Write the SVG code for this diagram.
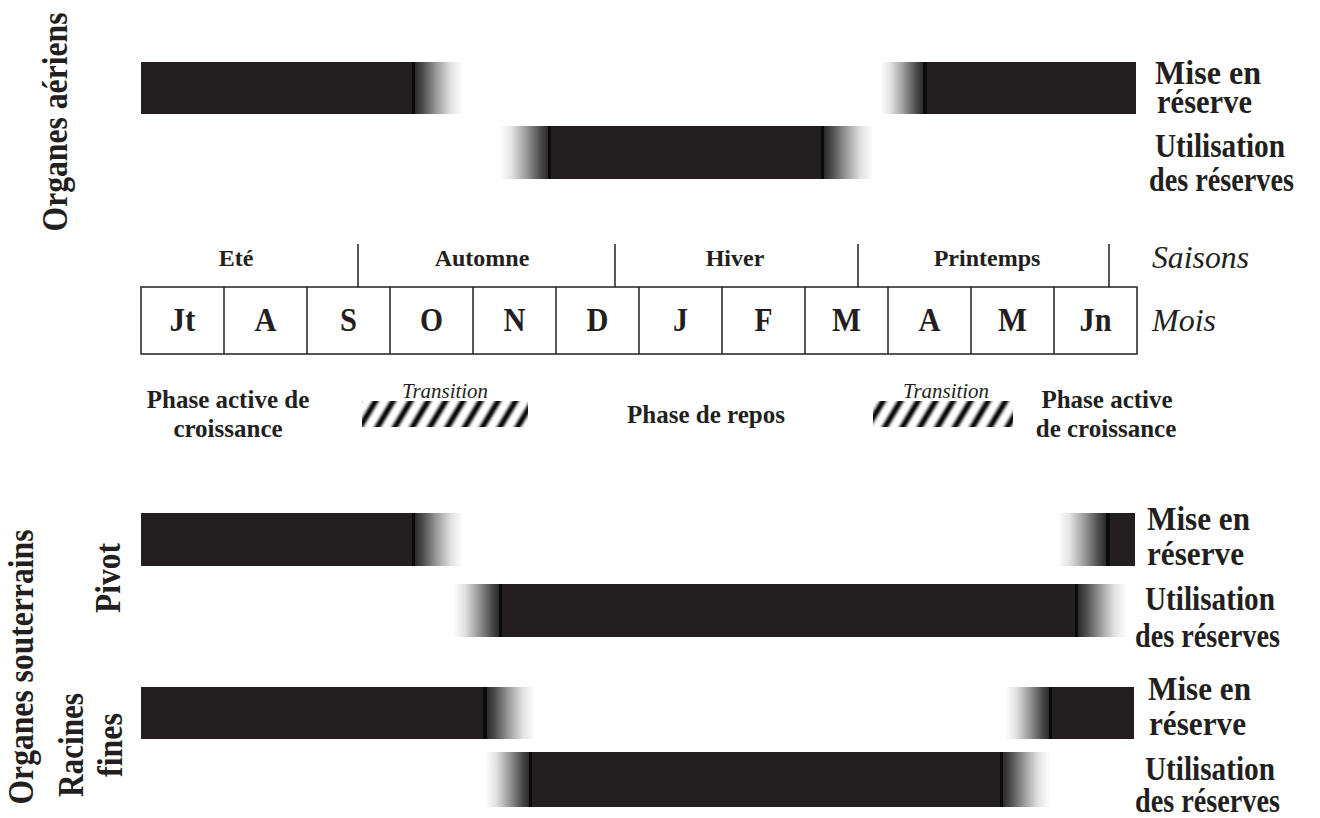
<svg xmlns="http://www.w3.org/2000/svg" width="1320" height="818" viewBox="0 0 1320 818">
  <style>
    .bar { fill: #231f20; }
    .edge { fill: #0a0a0a; }
    .fo { fill: url(#fadeOut); }
    .fi { fill: url(#fadeIn); }
    .lbl { font-family: "Liberation Serif", "Times New Roman", serif; font-weight: bold; fill: #231f20; }
    .it { font-family: "Liberation Serif", "Times New Roman", serif; font-style: italic; fill: #231f20; }
    .rl { font-size: 33px; }
    .vl { font-size: 35px; }
    .season { font-size: 24px; text-anchor: middle; }
    .month { font-size: 33px; text-anchor: middle; }
    .phase { font-size: 25px; text-anchor: middle; }
    .line { stroke: #231f20; stroke-width: 1.5; fill: none; }
  </style>
  <defs>
    <linearGradient id="fadeOut" x1="0" y1="0" x2="1" y2="0">
      <stop offset="0" stop-color="#2a2a2a"/>
      <stop offset="0.15" stop-color="#4a4a4a"/>
      <stop offset="0.45" stop-color="#9a9a9a"/>
      <stop offset="0.75" stop-color="#e2e2e2"/>
      <stop offset="1" stop-color="#ffffff"/>
    </linearGradient>
    <linearGradient id="fadeIn" x1="1" y1="0" x2="0" y2="0">
      <stop offset="0" stop-color="#2a2a2a"/>
      <stop offset="0.15" stop-color="#4a4a4a"/>
      <stop offset="0.45" stop-color="#9a9a9a"/>
      <stop offset="0.75" stop-color="#e2e2e2"/>
      <stop offset="1" stop-color="#ffffff"/>
    </linearGradient>
    <pattern id="hatch" patternUnits="userSpaceOnUse" width="15" height="15" patternTransform="rotate(31)">
      <rect x="0" y="0" width="15" height="15" fill="#ffffff"/>
      <rect x="0" y="0" width="7" height="15" fill="#111111"/>
    </pattern>
    <filter id="soft" x="-5%" y="-5%" width="110%" height="110%">
      <feGaussianBlur stdDeviation="1.1"/>
    </filter>
    <clipPath id="clipT1"><rect x="362" y="401" width="166" height="26"/></clipPath>
    <clipPath id="clipT2"><rect x="873" y="401" width="140" height="26"/></clipPath>
  </defs>

  <rect width="1320" height="818" fill="#ffffff"/>

  <!-- Side labels -->
  <g id="label-organes-aeriens">
    <text class="lbl vl" text-anchor="middle" textLength="219" lengthAdjust="spacingAndGlyphs" transform="translate(67,122) rotate(-90)">Organes aériens</text>
  </g>
  <g id="label-organes-souterrains">
    <text class="lbl vl" text-anchor="middle" textLength="275" lengthAdjust="spacingAndGlyphs" transform="translate(33,667) rotate(-90)">Organes souterrains</text>
  </g>
  <g id="label-pivot">
    <text class="lbl vl" text-anchor="middle" textLength="70" lengthAdjust="spacingAndGlyphs" transform="translate(120,578) rotate(-90)">Pivot</text>
  </g>
  <g id="label-racines-fines">
    <text class="lbl vl" text-anchor="middle" textLength="104" lengthAdjust="spacingAndGlyphs" transform="translate(83,745) rotate(-90)">Racines</text>
    <text class="lbl vl" text-anchor="middle" textLength="64" lengthAdjust="spacingAndGlyphs" transform="translate(122,745) rotate(-90)">fines</text>
  </g>

  <!-- Aerial organs: storage -->
  <g id="bar-aeriens-mise">
    <rect class="bar" x="141" y="62" width="271" height="52"/>
    <rect class="edge" x="412" y="62" width="3" height="52"/>
    <rect class="fo" x="415" y="62" width="48" height="52"/>
    <rect class="fi" x="880" y="62" width="43" height="52"/>
    <rect class="edge" x="923" y="62" width="4" height="52"/>
    <rect class="bar" x="927" y="62" width="209" height="52"/>
  </g>
  <!-- Aerial organs: use -->
  <g id="bar-aeriens-util">
    <rect class="fi" x="500" y="126" width="48" height="53"/>
    <rect class="edge" x="548" y="126" width="3" height="53"/>
    <rect class="bar" x="551" y="126" width="270" height="53"/>
    <rect class="edge" x="821" y="126" width="3" height="53"/>
    <rect class="fo" x="824" y="126" width="49" height="53"/>
  </g>

  <g id="labels-aeriens">
    <text class="lbl rl" x="1155" y="84" textLength="106" lengthAdjust="spacingAndGlyphs">Mise en</text>
    <text class="lbl rl" x="1157" y="113" textLength="95" lengthAdjust="spacingAndGlyphs">réserve</text>
    <text class="lbl rl" x="1155" y="157" textLength="130" lengthAdjust="spacingAndGlyphs">Utilisation</text>
    <text class="lbl rl" x="1149" y="191" textLength="145" lengthAdjust="spacingAndGlyphs">des réserves</text>
  </g>

  <!-- Timeline -->
  <g id="seasons">
    <line class="line" x1="358" y1="244" x2="358" y2="287"/>
    <line class="line" x1="615" y1="244" x2="615" y2="287"/>
    <line class="line" x1="858" y1="244" x2="858" y2="287"/>
    <line class="line" x1="1109" y1="244" x2="1109" y2="287"/>
    <text class="lbl season" x="236" y="266">Eté</text>
    <text class="lbl season" x="482" y="266">Automne</text>
    <text class="lbl season" x="735" y="266">Hiver</text>
    <text class="lbl season" x="987" y="266">Printemps</text>
    <text class="it" x="1152" y="268" font-size="32" textLength="97" lengthAdjust="spacingAndGlyphs">Saisons</text>
  </g>
  <g id="months">
    <rect class="line" x="141" y="287" width="996" height="67"/>
    <line class="line" x1="224" y1="287" x2="224" y2="354"/>
    <line class="line" x1="307" y1="287" x2="307" y2="354"/>
    <line class="line" x1="390" y1="287" x2="390" y2="354"/>
    <line class="line" x1="473" y1="287" x2="473" y2="354"/>
    <line class="line" x1="556" y1="287" x2="556" y2="354"/>
    <line class="line" x1="639" y1="287" x2="639" y2="354"/>
    <line class="line" x1="722" y1="287" x2="722" y2="354"/>
    <line class="line" x1="805" y1="287" x2="805" y2="354"/>
    <line class="line" x1="888" y1="287" x2="888" y2="354"/>
    <line class="line" x1="971" y1="287" x2="971" y2="354"/>
    <line class="line" x1="1054" y1="287" x2="1054" y2="354"/>
    <text class="lbl month" x="182.5" y="331" textLength="26" lengthAdjust="spacingAndGlyphs">Jt</text>
    <text class="lbl month" x="265.5" y="331" textLength="22" lengthAdjust="spacingAndGlyphs">A</text>
    <text class="lbl month" x="348.5" y="331" textLength="17" lengthAdjust="spacingAndGlyphs">S</text>
    <text class="lbl month" x="431.5" y="331" textLength="23" lengthAdjust="spacingAndGlyphs">O</text>
    <text class="lbl month" x="514.5" y="331" textLength="22" lengthAdjust="spacingAndGlyphs">N</text>
    <text class="lbl month" x="597.5" y="331" textLength="22" lengthAdjust="spacingAndGlyphs">D</text>
    <text class="lbl month" x="680.5" y="331" textLength="15" lengthAdjust="spacingAndGlyphs">J</text>
    <text class="lbl month" x="763.5" y="331" textLength="18" lengthAdjust="spacingAndGlyphs">F</text>
    <text class="lbl month" x="846.5" y="331" textLength="29" lengthAdjust="spacingAndGlyphs">M</text>
    <text class="lbl month" x="929.5" y="331" textLength="22" lengthAdjust="spacingAndGlyphs">A</text>
    <text class="lbl month" x="1012.5" y="331" textLength="29" lengthAdjust="spacingAndGlyphs">M</text>
    <text class="lbl month" x="1095.5" y="331" textLength="32" lengthAdjust="spacingAndGlyphs">Jn</text>
    <text class="it" x="1152" y="331" font-size="32" textLength="64" lengthAdjust="spacingAndGlyphs">Mois</text>
  </g>

  <!-- Phases -->
  <g id="phase-active-1">
    <text class="lbl phase" x="228" y="408">Phase active de</text>
    <text class="lbl phase" x="228" y="437">croissance</text>
  </g>
  <g id="transition-1">
    <g clip-path="url(#clipT1)">
      <rect x="358" y="397" width="174" height="34" fill="url(#hatch)" filter="url(#soft)"/>
    </g>
    <text class="it" x="445" y="398" font-size="21" text-anchor="middle" textLength="86" lengthAdjust="spacingAndGlyphs">Transition</text>
  </g>
  <g id="phase-repos">
    <text class="lbl phase" x="706" y="423">Phase de repos</text>
  </g>
  <g id="transition-2">
    <g clip-path="url(#clipT2)">
      <rect x="869" y="397" width="148" height="34" fill="url(#hatch)" filter="url(#soft)"/>
    </g>
    <text class="it" x="946" y="398" font-size="21" text-anchor="middle" textLength="86" lengthAdjust="spacingAndGlyphs">Transition</text>
  </g>
  <g id="phase-active-2">
    <text class="lbl phase" x="1107" y="408">Phase active</text>
    <text class="lbl phase" x="1106" y="437">de croissance</text>
  </g>

  <!-- Pivot: storage -->
  <g id="bar-pivot-mise">
    <rect class="bar" x="141" y="513" width="271" height="53"/>
    <rect class="edge" x="412" y="513" width="3" height="53"/>
    <rect class="fo" x="415" y="513" width="48" height="53"/>
    <rect class="fi" x="1058" y="513" width="48" height="53"/>
    <rect class="edge" x="1106" y="513" width="4" height="53"/>
    <rect class="bar" x="1110" y="513" width="25" height="53"/>
  </g>
  <!-- Pivot: use -->
  <g id="bar-pivot-util">
    <rect class="fi" x="453" y="584" width="46" height="53"/>
    <rect class="edge" x="499" y="584" width="3" height="53"/>
    <rect class="bar" x="502" y="584" width="573" height="53"/>
    <rect class="edge" x="1075" y="584" width="3" height="53"/>
    <rect class="fo" x="1078" y="584" width="49" height="53"/>
  </g>
  <!-- Racines fines: storage -->
  <g id="bar-racines-mise">
    <rect class="bar" x="141" y="687" width="342" height="52"/>
    <rect class="edge" x="483" y="687" width="4" height="52"/>
    <rect class="fo" x="487" y="687" width="48" height="52"/>
    <rect class="fi" x="1005" y="687" width="44" height="52"/>
    <rect class="edge" x="1049" y="687" width="3" height="52"/>
    <rect class="bar" x="1052" y="687" width="82" height="52"/>
  </g>
  <!-- Racines fines: use -->
  <g id="bar-racines-util">
    <rect class="fi" x="485" y="752" width="44" height="55"/>
    <rect class="edge" x="529" y="752" width="3" height="55"/>
    <rect class="bar" x="532" y="752" width="468" height="55"/>
    <rect class="edge" x="1000" y="752" width="3" height="55"/>
    <rect class="fo" x="1003" y="752" width="47" height="55"/>
  </g>

  <g id="labels-souterrains">
    <text class="lbl rl" x="1147" y="530" textLength="103" lengthAdjust="spacingAndGlyphs">Mise en</text>
    <text class="lbl rl" x="1147" y="565" textLength="97" lengthAdjust="spacingAndGlyphs">réserve</text>
    <text class="lbl rl" x="1145" y="610" textLength="130" lengthAdjust="spacingAndGlyphs">Utilisation</text>
    <text class="lbl rl" x="1135" y="647" textLength="145" lengthAdjust="spacingAndGlyphs">des réserves</text>
    <text class="lbl rl" x="1148" y="700" textLength="103" lengthAdjust="spacingAndGlyphs">Mise en</text>
    <text class="lbl rl" x="1149" y="735" textLength="97" lengthAdjust="spacingAndGlyphs">réserve</text>
    <text class="lbl rl" x="1145" y="780" textLength="130" lengthAdjust="spacingAndGlyphs">Utilisation</text>
    <text class="lbl rl" x="1135" y="812" textLength="145" lengthAdjust="spacingAndGlyphs">des réserves</text>
  </g>

  <g id="connectors"></g>
</svg>
